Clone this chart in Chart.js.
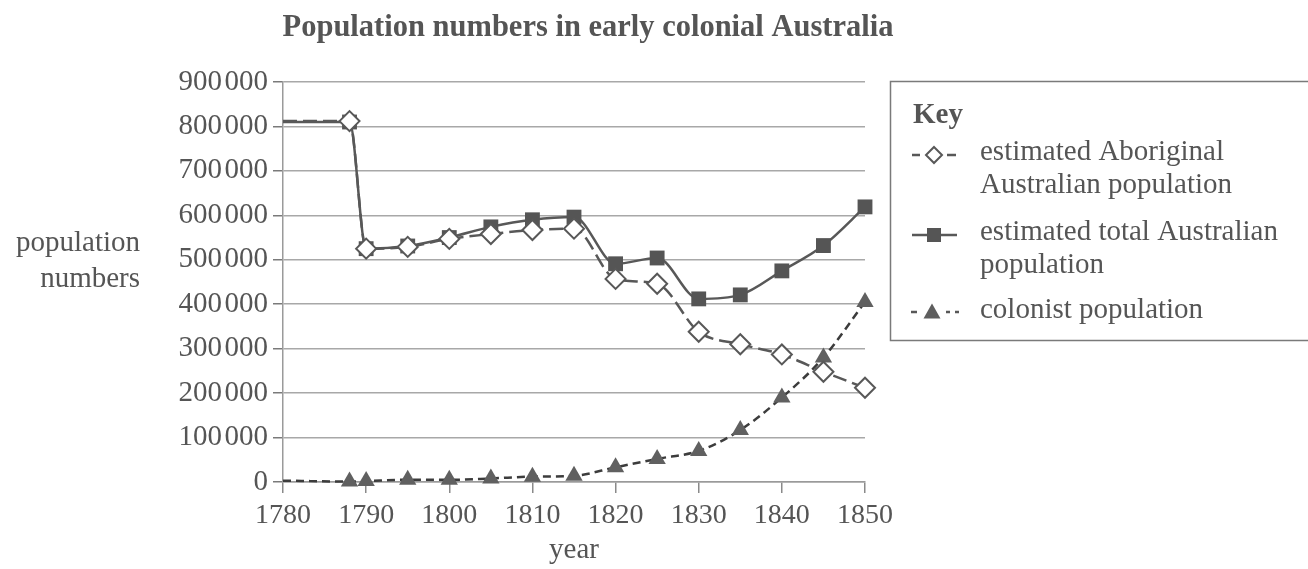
<!DOCTYPE html>
<html>
<head>
<meta charset="utf-8">
<title>Population numbers in early colonial Australia</title>
<script src="https://cdn.jsdelivr.net/npm/chart.js@4.4.1/dist/chart.umd.min.js"></script>
<style>
  html, body { margin: 0; padding: 0; background: #fff; }
  #wrap { position: relative; width: 1308px; height: 569px; }
</style>
</head>
<body>
<div id="wrap"><canvas id="popChart"></canvas></div>
<script>
// Population numbers in early colonial Australia

const years = [1780, 1788, 1790, 1795, 1800, 1805, 1810, 1815, 1820, 1825, 1830, 1835, 1840, 1845, 1850];
const aboriginalPop = [812000, 812000, 525000, 529000, 547000, 558000, 567000, 570000, 457000, 446000, 338000, 310000, 287000, 248000, 212000];
const totalPop = [810000, 810000, 525000, 531000, 550000, 574000, 590000, 596000, 491000, 504000, 412000, 421000, 475000, 532000, 619000];
const colonistPop = [3000, 1000, 2000, 5000, 5000, 8000, 12000, 14000, 33000, 52000, 70000, 117000, 190000, 280000, 405000];

const xTickValues = [1780, 1790, 1800, 1810, 1820, 1830, 1840, 1850];
const yTickValues = [0, 100000, 200000, 300000, 400000, 500000, 600000, 700000, 800000, 900000];

const chartTitle = 'Population numbers in early colonial Australia';
const xTitle = 'year';
const yTitleLines = ['population', 'numbers'];
const keyTitle = 'Key';
const seriesNames = ['estimated Aboriginal Australian population', 'estimated total Australian population', 'colonist population'];
const keyLines = [
    ['estimated Aboriginal', 'Australian population'],
    ['estimated total Australian', 'population'],
    ['colonist population']
];

const TEXT = '#555555';
const LINE = '#585858';
const SERIF = '"Liberation Serif", "Times New Roman", serif';

function pairs(values) {
    return years.map((y, i) => ({ x: y, y: values[i] }));
}

function formatThousands(v) {
    return String(v).replace(/\B(?=(\d{3})+(?!\d))/g, '\u200A');
}

// first point (1780) has no marker, only the line
function hideFirst(r) {
    return ctx => ctx.dataIndex === 0 ? 0 : r;
}

function drawMarker(ctx, style, x, y, r, fill, stroke) {
    ctx.beginPath();
    if (style === 'diamond') {
        ctx.moveTo(x, y - r); ctx.lineTo(x + r, y); ctx.lineTo(x, y + r); ctx.lineTo(x - r, y);
    } else if (style === 'square') {
        ctx.rect(x - r, y - r, 2 * r, 2 * r);
    } else {
        ctx.moveTo(x, y - r); ctx.lineTo(x + r, y + r * 0.75); ctx.lineTo(x - r, y + r * 0.75);
    }
    ctx.closePath();
    ctx.fillStyle = fill;
    ctx.fill();
    if (stroke) {
        ctx.strokeStyle = stroke;
        ctx.lineWidth = 2;
        ctx.stroke();
    }
}

const decorPlugin = {
    id: 'decor',
    afterDraw(chart) {
        const ctx = chart.ctx;
        ctx.save();
        ctx.fillStyle = TEXT;
        ctx.textBaseline = 'alphabetic';

        // title
        ctx.font = 'bold 30.5px ' + SERIF;
        ctx.textAlign = 'center';
        ctx.fillText(chartTitle, 588, 36);

        // y axis title, two lines, right aligned
        ctx.font = '29px ' + SERIF;
        ctx.textAlign = 'right';
        ctx.fillText(yTitleLines[0], 140, 251);
        ctx.fillText(yTitleLines[1], 140, 287);

        // key box
        ctx.strokeStyle = '#7a7a7a';
        ctx.lineWidth = 1.5;
        ctx.strokeRect(890.5, 81.5, 430, 259);

        ctx.textAlign = 'left';
        ctx.font = 'bold 29px ' + SERIF;
        ctx.fillText(keyTitle, 913, 123);

        ctx.font = '29px ' + SERIF;
        const rows = [
            { base: 160, sym: 155 },
            { base: 240, sym: 235 },
            { base: 318, sym: 312 }
        ];
        keyLines.forEach((lines, i) => {
            lines.forEach((t, j) => ctx.fillText(t, 980, rows[i].base + j * 33));
        });

        // key symbols
        ctx.lineWidth = 2.5;
        ctx.strokeStyle = LINE;
        let y = rows[0].sym;
        ctx.beginPath();
        ctx.moveTo(912, y); ctx.lineTo(920, y);
        ctx.moveTo(947, y); ctx.lineTo(956, y);
        ctx.stroke();
        drawMarker(ctx, 'diamond', 934, y, 8, '#ffffff', LINE);

        y = rows[1].sym;
        ctx.lineWidth = 2.5;
        ctx.beginPath();
        ctx.moveTo(912, y); ctx.lineTo(957, y);
        ctx.stroke();
        drawMarker(ctx, 'square', 934, y, 7, '#555555');

        y = rows[2].sym;
        ctx.lineWidth = 2.5;
        ctx.beginPath();
        ctx.moveTo(911, y); ctx.lineTo(917, y);
        ctx.moveTo(946, y); ctx.lineTo(950, y);
        ctx.moveTo(955, y); ctx.lineTo(959, y);
        ctx.stroke();
        drawMarker(ctx, 'triangle', 932, y, 8.5, '#5e5e5e');

        ctx.restore();
    }
};

const ctx = document.getElementById('popChart').getContext('2d');

const popChart = new Chart(ctx, {
    type: 'line',
    data: {
        datasets: [{
            label: seriesNames[0],
            data: pairs(aboriginalPop),
            borderColor: LINE,
            borderWidth: 2.5,
            borderDash: [14, 6],
            pointStyle: 'rectRot',
            pointRadius: hideFirst(10),
            pointBackgroundColor: '#ffffff',
            pointBorderColor: LINE,
            pointBorderWidth: 2,
            cubicInterpolationMode: 'monotone',
            clip: false
        }, {
            label: seriesNames[1],
            data: pairs(totalPop),
            borderColor: LINE,
            borderWidth: 2.5,
            pointStyle: 'rect',
            pointRadius: hideFirst(10.5),
            pointBackgroundColor: '#555555',
            pointBorderColor: '#555555',
            pointBorderWidth: 0,
            cubicInterpolationMode: 'monotone',
            clip: false
        }, {
            label: seriesNames[2],
            data: pairs(colonistPop),
            borderColor: '#3c3c3c',
            borderWidth: 2.5,
            borderDash: [8, 5],
            pointStyle: 'triangle',
            pointRadius: hideFirst(10),
            pointBackgroundColor: '#606060',
            pointBorderColor: '#606060',
            pointBorderWidth: 0,
            cubicInterpolationMode: 'monotone',
            clip: false
        }]
    },
    options: {
        responsive: true,
        maintainAspectRatio: false,
        animation: false,
        layout: {
            padding: { left: 0, right: 443, top: 82, bottom: 0 }
        },
        plugins: {
            legend: { display: false },
            title: { display: false },
            tooltip: { enabled: false }
        },
        scales: {
            x: {
                type: 'linear',
                min: 1780,
                max: 1850,
                afterBuildTicks: scale => { scale.ticks = xTickValues.map(v => ({ value: v })); },
                afterFit: scale => { scale.height = 87; },
                grid: {
                    drawOnChartArea: false,
                    drawTicks: true,
                    tickLength: 11,
                    color: '#8a8a8a',
                    lineWidth: 1.5
                },
                border: { color: '#9a9a9a', width: 1.5 },
                ticks: {
                    color: TEXT,
                    font: { family: SERIF, size: 28 },
                    padding: 6,
                    maxRotation: 0,
                    callback: v => String(v)
                },
                title: {
                    display: true,
                    text: xTitle,
                    color: TEXT,
                    font: { family: SERIF, size: 29 },
                    padding: { top: 0, bottom: 1 }
                }
            },
            y: {
                min: 0,
                max: 900000,
                afterBuildTicks: scale => { scale.ticks = yTickValues.map(v => ({ value: v })); },
                afterFit: scale => { scale.width = 283; },
                grid: {
                    color: '#a8a8a8',
                    lineWidth: 1.5,
                    tickLength: 10,
                    tickColor: '#7a7a7a'
                },
                border: { color: '#9a9a9a', width: 1.5 },
                ticks: {
                    color: TEXT,
                    font: { family: SERIF, size: 29 },
                    padding: 5,
                    callback: v => formatThousands(v)
                }
            }
        }
    },
    plugins: [decorPlugin]
});
</script>
</body>
</html>
